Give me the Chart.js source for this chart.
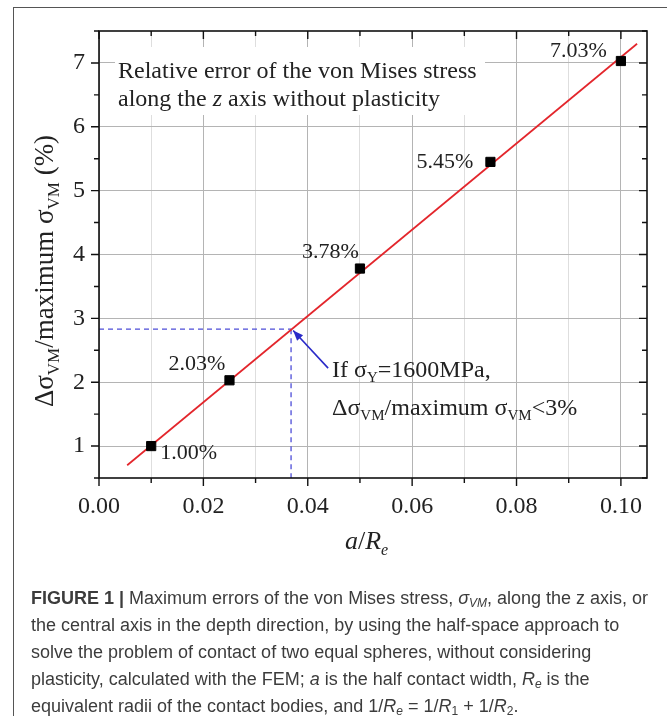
<!DOCTYPE html>
<html>
<head>
<meta charset="utf-8">
<script src="https://cdn.jsdelivr.net/npm/chart.js@4.4.0/dist/chart.umd.min.js"></script>
<style>
  body { margin: 0; background: #fff; width: 667px; height: 716px; overflow: hidden; position: relative; }
  #frame { position: absolute; left: 13px; top: 7px; width: 700px; height: 800px;
           border-left: 1.5px solid #555; border-top: 1.5px solid #555; }
  #chart { position: absolute; left: 0; top: 0; }
  #cap { position: absolute; left: 31px; top: 585px; font-family: "Liberation Sans", Arial, sans-serif;
         font-size: 18px; line-height: 27px; color: #3c3c3c; white-space: nowrap; }
  #cap sub { font-size: 12px; vertical-align: -3px; line-height: 0; }
</style>
</head>
<body>
<div id="frame"></div>
<canvas id="chart" width="667" height="716"></canvas>
<div id="cap"><b>FIGURE 1 |</b> Maximum errors of the von Mises stress, <i>σ<sub>VM</sub></i>, along the z axis, or<br>the central axis in the depth direction, by using the half-space approach to<br>solve the problem of contact of two equal spheres, without considering<br>plasticity, calculated with the FEM; <i>a</i> is the half contact width, <i>R<sub>e</sub></i> is the<br>equivalent radii of the contact bodies, and 1/<i>R<sub>e</sub></i> = 1/<i>R</i><sub>1</sub> + 1/<i>R</i><sub>2</sub>.</div>
<script>
// values
const aRe = [0.01, 0.025, 0.05, 0.075, 0.10];
const errPct = [1.00, 2.03, 3.78, 5.45, 7.03];
const pointLabels = ['1.00%', '2.03%', '3.78%', '5.45%', '7.03%'];

// red fitted line, end points as drawn
const fitX = [0.0054, 0.1031];
const fitY = [0.70, 7.30];

// sigma_Y = 1600 MPa limit (blue dashed guides)
const limitX = 0.0368;
const limitY = 2.83;
// arrow from text to the limit point
const arrowX = [0.0439, 0.0372];
const arrowY = [2.22, 2.81];

const SERIF = '"Liberation Serif", "Times New Roman", serif';
const TXT = '#222';

// label placement relative to each marker: [dx of left edge, dy of baseline]
const labelOffsets = [[9, 13], [-61, -10], [-58, -11], [-74, 6], [-71, -4]];

function drawRich(ctx, segs, x, y, size) {
    // segs: [text, kind] kind: n normal, i italic, s subscript
    let cx = x;
    segs.forEach(([t, k]) => {
        if (k === 's') {
            ctx.font = Math.round(size * 0.64) + 'px ' + SERIF;
            ctx.fillText(t, cx, y + size * 0.22);
        } else {
            ctx.font = (k === 'i' ? 'italic ' : '') + size + 'px ' + SERIF;
            ctx.fillText(t, cx, y);
        }
        cx += ctx.measureText(t).width;
    });
    return cx - x;
}

function richWidth(ctx, segs, size) {
    let w = 0;
    segs.forEach(([t, k]) => {
        ctx.font = (k === 's' ? Math.round(size * 0.64) : size) + 'px ' + SERIF;
        if (k === 'i') ctx.font = 'italic ' + size + 'px ' + SERIF;
        w += ctx.measureText(t).width;
    });
    return w;
}

const decorPlugin = {
    id: 'decor',
    beforeDatasetsDraw(chart) {
        // white box behind the description text hides the grid there
        const ctx = chart.ctx;
        ctx.save();
        ctx.fillStyle = '#fff';
        ctx.fillRect(115, 47, 370, 68);
        ctx.restore();
    },
    afterDraw(chart) {
        const ctx = chart.ctx;
        const xs = chart.scales.x, ys = chart.scales.y;
        const a = chart.chartArea;
        ctx.save();

        // axis box
        ctx.strokeStyle = '#111';
        ctx.lineWidth = 1.6;
        ctx.strokeRect(a.left, a.top, a.right - a.left, a.bottom - a.top);

        // tick marks: outward on bottom/left, inward on top/right
        ctx.lineWidth = 1.4;
        ctx.beginPath();
        for (let i = 0; i <= 10; i++) {
            const px = xs.getPixelForValue(i / 100);
            const len = i % 2 === 0 ? 8 : 5;
            ctx.moveTo(px, a.bottom); ctx.lineTo(px, a.bottom + len);
            ctx.moveTo(px, a.top); ctx.lineTo(px, a.top + len);
        }
        for (let i = 1; i <= 15; i++) {
            const v = i / 2;
            const py = ys.getPixelForValue(v);
            const len = i % 2 === 0 ? 8 : 5;
            ctx.moveTo(a.left, py); ctx.lineTo(a.left - len, py);
            ctx.moveTo(a.right, py); ctx.lineTo(a.right - len, py);
        }
        ctx.stroke();

        // arrow head at the limit point
        const hx = xs.getPixelForValue(arrowX[1]), hy = ys.getPixelForValue(arrowY[1]);
        const tx = xs.getPixelForValue(arrowX[0]), ty = ys.getPixelForValue(arrowY[0]);
        const ang = Math.atan2(hy - ty, hx - tx);
        ctx.fillStyle = '#2a2ac8';
        ctx.beginPath();
        ctx.moveTo(hx, hy);
        ctx.lineTo(hx - 11 * Math.cos(ang - 0.38), hy - 11 * Math.sin(ang - 0.38));
        ctx.lineTo(hx - 11 * Math.cos(ang + 0.38), hy - 11 * Math.sin(ang + 0.38));
        ctx.closePath();
        ctx.fill();

        // point labels
        ctx.fillStyle = TXT;
        ctx.textAlign = 'left';
        ctx.textBaseline = 'alphabetic';
        ctx.font = '22px ' + SERIF;
        aRe.forEach((x, i) => {
            const px = xs.getPixelForValue(x), py = ys.getPixelForValue(errPct[i]);
            ctx.fillText(pointLabels[i], px + labelOffsets[i][0], py + labelOffsets[i][1]);
        });

        // description text
        ctx.font = '24px ' + SERIF;
        ctx.fillText('Relative error of the von Mises stress', 118, 78);
        drawRich(ctx, [['along the ', 'n'], ['z', 'i'], [' axis without plasticity', 'n']], 118, 106, 24);

        drawRich(ctx, [['If σ', 'n'], ['Y', 's'], ['=1600MPa,', 'n']], 332, 377, 24);
        drawRich(ctx, [['Δσ', 'n'], ['VM', 's'], ['/maximum σ', 'n'], ['VM', 's'], ['<3%', 'n']], 332, 415, 24);

        // axis titles
        const ySegs = [['Δσ', 'n'], ['VM', 's'], ['/maximum σ', 'n'], ['VM', 's'], [' (%)', 'n']];
        const w = richWidth(ctx, ySegs, 27);
        ctx.save();
        ctx.translate(53, 271);
        ctx.rotate(-Math.PI / 2);
        drawRich(ctx, ySegs, -w / 2, 0, 27);
        ctx.restore();

        ctx.font = 'italic 26px ' + SERIF;
        let cx = 345;
        ctx.fillText('a', cx, 549); cx += ctx.measureText('a').width;
        ctx.font = '26px ' + SERIF;
        ctx.fillText('/', cx, 549); cx += ctx.measureText('/').width;
        ctx.font = 'italic 26px ' + SERIF;
        ctx.fillText('R', cx, 549); cx += ctx.measureText('R').width;
        ctx.font = 'italic 16px ' + SERIF;
        ctx.fillText('e', cx, 555);

        ctx.restore();
    }
};

new Chart(document.getElementById('chart'), {
    type: 'scatter',
    data: {
        datasets: [
            {
                data: aRe.map((x, i) => ({ x: x, y: errPct[i] })),
                pointStyle: 'rect',
                pointRadius: 6.5,
                pointBackgroundColor: '#000',
                pointBorderColor: '#000',
                order: 0
            },
            {
                type: 'line',
                data: fitX.map((x, i) => ({ x: x, y: fitY[i] })),
                borderColor: '#e3262c',
                borderWidth: 1.7,
                pointRadius: 0,
                order: 1
            },
            {
                type: 'line',
                data: [{ x: 0, y: limitY }, { x: limitX, y: limitY }],
                borderColor: '#4d4dd8',
                borderWidth: 1.3,
                borderDash: [5, 4],
                pointRadius: 0,
                order: 2
            },
            {
                type: 'line',
                data: [{ x: limitX, y: limitY }, { x: limitX, y: 0.5 }],
                borderColor: '#4d4dd8',
                borderWidth: 1.3,
                borderDash: [5, 4],
                pointRadius: 0,
                order: 2
            },
            {
                type: 'line',
                data: arrowX.map((x, i) => ({ x: x, y: arrowY[i] })),
                borderColor: '#2a2ac8',
                borderWidth: 1.6,
                pointRadius: 0,
                order: 2
            }
        ]
    },
    options: {
        responsive: false,
        animation: false,
        events: [],
        layout: { padding: { top: 31, right: 20, left: 0, bottom: 0 } },
        plugins: {
            legend: { display: false },
            tooltip: { enabled: false }
        },
        scales: {
            x: {
                type: 'linear',
                min: 0,
                max: 0.105,
                afterFit: (s) => { s.height = 238; },
                border: { display: false },
                grid: {
                    drawTicks: false,
                    color: (c) => Math.round(c.tick.value * 100) % 2 === 0 ? '#b4b4b4' : '#dedede',
                    lineWidth: 1
                },
                ticks: {
                    stepSize: 0.01,
                    includeBounds: false,
                    autoSkip: false,
                    maxRotation: 0,
                    padding: 14,
                    color: TXT,
                    font: { family: SERIF, size: 24 },
                    callback: (v) => Math.round(v * 100) % 2 === 0 ? v.toFixed(2) : ''
                }
            },
            y: {
                min: 0.5,
                max: 7.5,
                afterFit: (s) => { s.width = 99; },
                border: { display: false },
                grid: {
                    drawTicks: false,
                    color: (c) => Number.isInteger(c.tick.value) ? '#b4b4b4' : 'rgba(0,0,0,0)',
                    lineWidth: 1
                },
                ticks: {
                    stepSize: 0.5,
                    autoSkip: false,
                    padding: 14,
                    color: TXT,
                    font: { family: SERIF, size: 24 },
                    callback: (v) => Number.isInteger(v) ? String(v) : ''
                }
            }
        }
    },
    plugins: [decorPlugin]
});
</script>
</body>
</html>
